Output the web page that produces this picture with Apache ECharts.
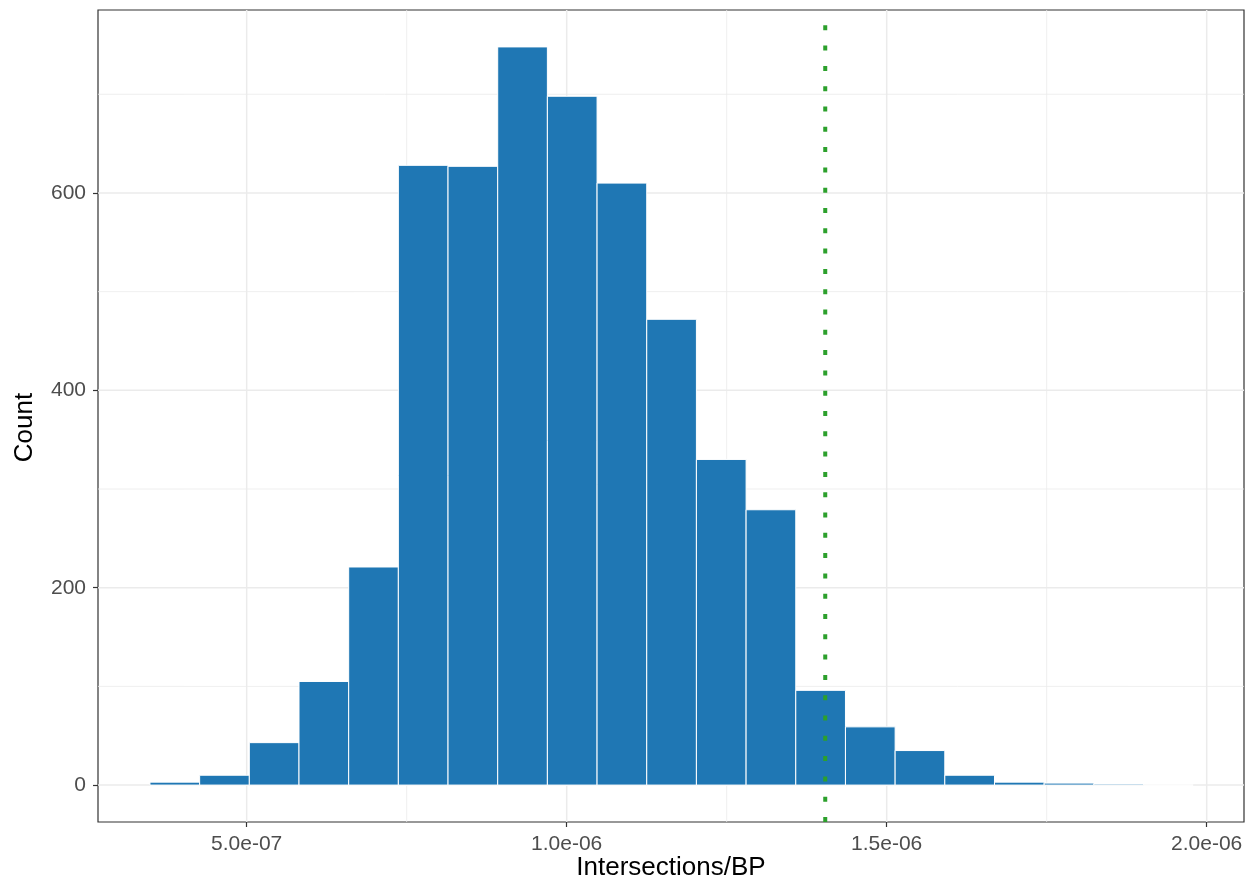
<!DOCTYPE html>
<html>
<head>
<meta charset="utf-8">
<script src="https://cdn.jsdelivr.net/npm/echarts@6/dist/echarts.min.js"></script>
<style>
  html, body { margin: 0; padding: 0; background: #ffffff; }
  #chart { width: 1249px; height: 882px; }
</style>
</head>
<body>
<div id="chart"></div>
<script>
// Histogram of intersections per base pair
const binStart = 3.489e-7;
const binWidth = 7.762e-8;
const counts = [3, 10, 43, 105, 221, 628, 627, 748, 698, 610, 472, 330, 279, 96, 59, 35, 10, 3, 2, 1, 0];
const cutoff = 1.404e-6;

const xRange = [2.677e-7, 2.0583e-6];
const yRange = [-37.4, 785.4];
const xTicks = [5e-7, 1e-6, 1.5e-6, 2e-6];
const xTickLabels = ['5.0e-07', '1.0e-06', '1.5e-06', '2.0e-06'];
const xMinorTicks = [7.5e-7, 1.25e-6, 1.75e-6];
const yTicks = [0, 200, 400, 600];
const yTickLabels = ['0', '200', '400', '600'];
const yMinorTicks = [100, 300, 500, 700];

const bins = counts.map((c, i) => [binStart + i * binWidth, binStart + (i + 1) * binWidth, c]);

const FONT = '"Liberation Sans", Helvetica, Arial, sans-serif';
const gridColor = '#EBEBEB';

function labelFor(values, labels) {
  return function (v) {
    let best = 0;
    for (let i = 1; i < values.length; i++) {
      if (Math.abs(values[i] - v) < Math.abs(values[best] - v)) best = i;
    }
    return labels[best];
  };
}

// [position, 0, isMajor] for vertical lines; [xMin, position, isMajor] for horizontal ones
const xGrid = xMinorTicks.map(v => [v, 0, 0]).concat(xTicks.map(v => [v, 0, 1]));
const yGrid = yMinorTicks.map(v => [xRange[0], v, 0]).concat(yTicks.map(v => [xRange[0], v, 1]));

function gridStyle(major) {
  return { stroke: gridColor, lineWidth: major ? 1.5 : 0.8, fill: null };
}

const chart = echarts.init(document.getElementById('chart'), null, { renderer: 'canvas' });

chart.setOption({
  animation: false,
  backgroundColor: '#ffffff',
  grid: {
    left: 98, right: 5, top: 10, bottom: 60,
    containLabel: false,
    outerBoundsMode: 'none',
    show: true, borderColor: '#333333', borderWidth: 1.2, backgroundColor: 'transparent'
  },
  xAxis: {
    type: 'value',
    min: xRange[0], max: xRange[1],
    name: 'Intersections/BP',
    nameLocation: 'middle',
    nameGap: 33,
    nameMoveOverlap: false,
    nameTextStyle: { fontFamily: FONT, fontSize: 26, color: '#000000' },
    axisLine: { show: false, onZero: false },
    axisTick: { show: true, length: 5, customValues: xTicks, lineStyle: { color: '#333333', width: 1.2 } },
    axisLabel: {
      customValues: xTicks,
      formatter: labelFor(xTicks, xTickLabels),
      fontFamily: FONT, fontSize: 21, color: '#4D4D4D', margin: 12
    },
    splitLine: { show: false }
  },
  yAxis: {
    type: 'value',
    min: yRange[0], max: yRange[1],
    name: 'Count',
    nameLocation: 'middle',
    nameGap: 60,
    nameMoveOverlap: false,
    nameTextStyle: { fontFamily: FONT, fontSize: 26, color: '#000000', padding: [0, 23, 0, 0] },
    axisLine: { show: false, onZero: false },
    axisTick: { show: true, length: 5, customValues: yTicks, lineStyle: { color: '#333333', width: 1.2 } },
    axisLabel: {
      customValues: yTicks,
      formatter: labelFor(yTicks, yTickLabels),
      fontFamily: FONT, fontSize: 21, color: '#4D4D4D', margin: 12
    },
    splitLine: { show: false }
  },
  series: [
    {
      // vertical panel grid lines
      type: 'custom',
      z: 1,
      silent: true,
      data: xGrid,
      encode: { x: 0, y: 1 },
      renderItem: function (params, api) {
        const v = api.value(0);
        const a = api.coord([v, yRange[0]]);
        const b = api.coord([v, yRange[1]]);
        return {
          type: 'line',
          shape: { x1: a[0], y1: a[1], x2: b[0], y2: b[1] },
          style: gridStyle(api.value(2))
        };
      }
    },
    {
      // horizontal panel grid lines
      type: 'custom',
      z: 1,
      silent: true,
      data: yGrid,
      encode: { x: 0, y: 1 },
      renderItem: function (params, api) {
        const v = api.value(1);
        const a = api.coord([xRange[0], v]);
        const b = api.coord([xRange[1], v]);
        return {
          type: 'line',
          shape: { x1: a[0], y1: a[1], x2: b[0], y2: b[1] },
          style: gridStyle(api.value(2))
        };
      }
    },
    {
      // histogram bars
      type: 'custom',
      z: 2,
      silent: true,
      data: bins,
      encode: { x: [0, 1], y: 2 },
      renderItem: function (params, api) {
        const p0 = api.coord([api.value(0), 0]);
        const p1 = api.coord([api.value(1), api.value(2)]);
        return {
          type: 'rect',
          shape: { x: p0[0], y: p1[1], width: p1[0] - p0[0], height: p0[1] - p1[1] },
          style: { fill: '#1F77B4', stroke: '#ffffff', lineWidth: 1 }
        };
      }
    },
    {
      // dotted cutoff line, dashes laid out from the bottom of the panel
      type: 'custom',
      z: 3,
      silent: true,
      data: [[cutoff, yRange[0], yRange[1]]],
      encode: { x: 0, y: [1, 2] },
      renderItem: function (params, api) {
        const a = api.coord([api.value(0), api.value(1)]);
        const b = api.coord([api.value(0), api.value(2)]);
        return {
          type: 'line',
          shape: { x1: a[0], y1: a[1], x2: b[0], y2: b[1] },
          style: { stroke: '#2CA02C', lineWidth: 4, lineDash: [5, 15.3], lineCap: 'butt', fill: null }
        };
      }
    }
  ]
});
</script>
</body>
</html>
